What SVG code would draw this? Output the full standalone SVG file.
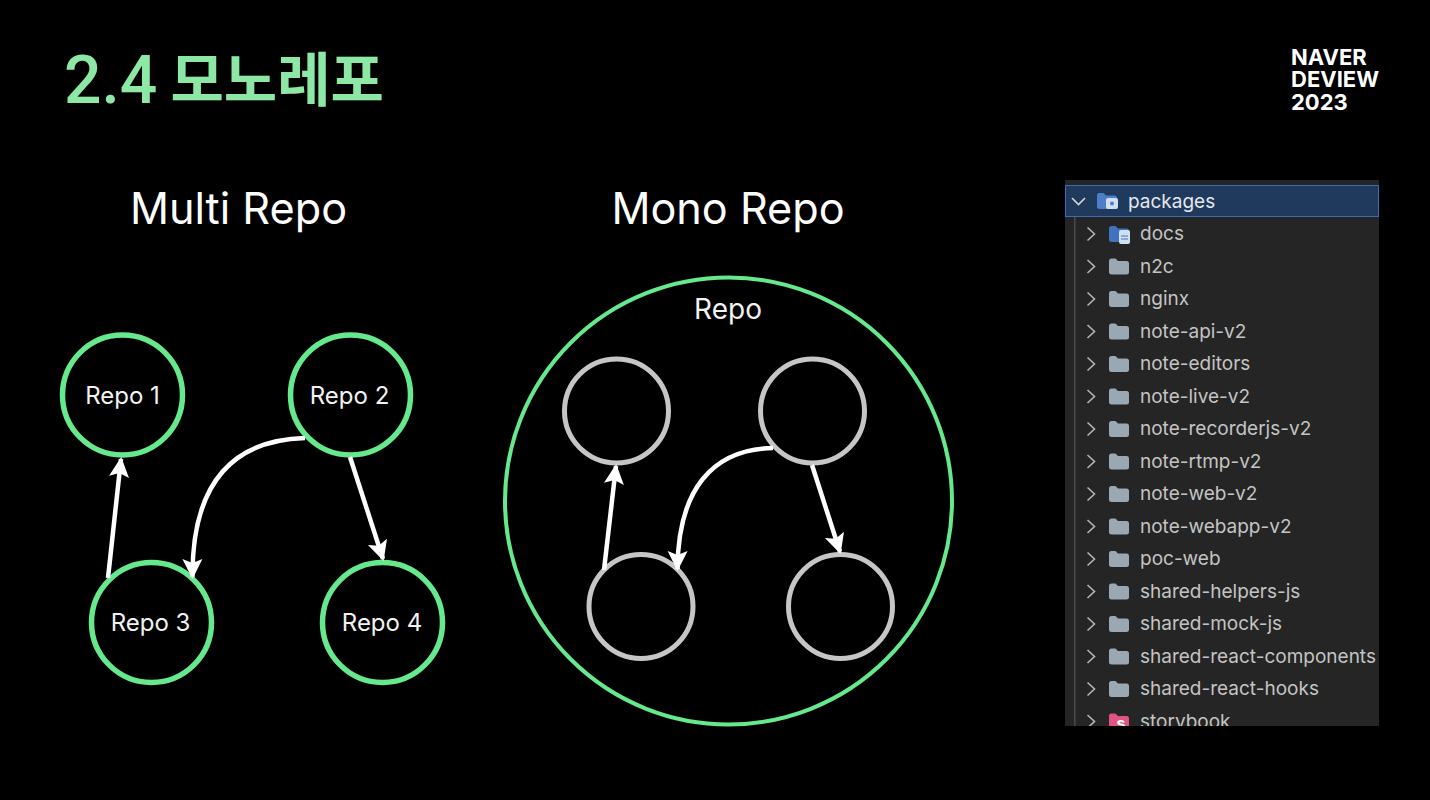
<svg xmlns="http://www.w3.org/2000/svg" width="1430" height="800" viewBox="0 0 1430 800">
  <style>
    text { font-family: "Inter", "Liberation Sans", "Noto Sans CJK KR", sans-serif; }
    .heading { fill: #fff; font-size: 43.200px; text-anchor: middle; }
    .label { fill: #f2f2f2; font-size: 24px; text-anchor: middle; }
    .node { fill: #000; stroke: #66e88c; stroke-width: 5.500; }
    .inner { fill: #000; stroke: #c6c6c6; stroke-width: 5; }
    .edge { fill: none; stroke: #fff; stroke-width: 4.500; marker-end: url(#head); }
    .brand { fill: #fff; font-size: 22px; font-weight: 700; }
    .row { fill: #c4c4c4; font-size: 19px; }
    .chev { fill: none; stroke: #b5b5b5; stroke-width: 1.600; }
    .folder { fill: #9aa8b4; }
  </style>
  <defs>
    <marker id="head" markerUnits="userSpaceOnUse" markerWidth="24" markerHeight="24" refX="18" refY="10" orient="auto" overflow="visible">
      <path d="M0 0 L20 10 L0 20 L4 10 Z" fill="#fff"/>
    </marker>
    <path id="fold" d="M0 2.500 Q0 0 2.500 0 H6.500 L9 2.500 H17.500 Q20 2.500 20 5 V14 Q20 16 17.500 16 H2.500 Q0 16 0 14 Z"/>
    <path id="chevron" d="M-3.500 -6.500 L3.500 0 L-3.500 6.500"/>
    <clipPath id="panelClip"><rect x="1065" y="180" width="314" height="546"/></clipPath>
  </defs>
  <rect width="1430" height="800" fill="#000"/>

  <text fill="#8de8a6"><tspan x="64" y="103" font-size="66" font-weight="500" style="font-family:'Roboto',sans-serif">2.4</tspan><tspan x="170.500" y="101" font-size="58" font-weight="700" style="font-family:'Noto Sans CJK KR',sans-serif">모노레포</tspan></text>
  <text id="brand" class="brand"><tspan x="1291" y="65">NAVER</tspan><tspan x="1291" y="87">DEVIEW</tspan><tspan x="1291" y="110">2023</tspan></text>
  <text class="heading" x="238.500" y="224">Multi Repo</text>
  <text class="heading" x="728" y="224">Mono Repo</text>

  <g id="repo-1"><circle class="node" cx="122.500" cy="395" r="60"/><text class="label" x="122.500" y="404">Repo 1</text></g>
  <g id="repo-2"><circle class="node" cx="350.500" cy="395" r="60"/><text class="label" x="349.500" y="404">Repo 2</text></g>
  <g id="repo-3"><circle class="node" cx="151.500" cy="622.500" r="60"/><text class="label" x="150.500" y="631">Repo 3</text></g>
  <g id="repo-4"><circle class="node" cx="382.500" cy="622.500" r="60"/><text class="label" x="382" y="631">Repo 4</text></g>

  <g id="mono-repo"><circle cx="728.500" cy="501" r="223.500" fill="none" stroke="#66e88c" stroke-width="4"/><text class="label" x="728" y="319" style="font-size:28px">Repo</text></g>
  <g id="mono-a"><circle class="inner" cx="616.500" cy="411" r="52"/></g>
  <g id="mono-b"><circle class="inner" cx="812.500" cy="411" r="52"/></g>
  <g id="mono-c"><circle class="inner" cx="641" cy="606.500" r="52"/></g>
  <g id="mono-d"><circle class="inner" cx="840.500" cy="606.500" r="52"/></g>

  <g id="connectors">
    <path class="edge" d="M108 578 L121 459"/>
    <path class="edge" d="M305 438 C235 440 192 480 192.500 577"/>
    <path class="edge" d="M350 457 L383 559"/>
    <path class="edge" d="M604 570 L616 466"/>
    <path class="edge" d="M773 448 C712 449 678 490 677.500 569"/>
    <path class="edge" d="M812 465 L840 552"/>
  </g>

  <g id="file-tree" clip-path="url(#panelClip)">
    <rect x="1065" y="180" width="314" height="546" fill="#252525"/>
    <rect x="1065.500" y="185.500" width="313" height="31" fill="#1f3a5c" stroke="#3b6db5" stroke-width="1"/>
    <rect x="1074" y="217" width="1.500" height="509" fill="#4a4a4a"/>
    <path d="M1072 198 L1078.500 204.500 L1085 198" fill="none" stroke="#d5d5d5" stroke-width="1.600"/>
    <use href="#fold" x="1097" y="193" fill="#4d7fc9"/>
    <rect x="1106" y="198" width="12" height="11" rx="2" fill="#cfe0f5"/>
    <circle cx="1112" cy="203.500" r="2" fill="#4d7fc9"/>
    <text x="1128" y="208" fill="#e4e8ee" font-size="19">packages</text>

    <g id="row-docs"><use href="#chevron" class="chev" x="1091" y="234"/><use href="#fold" x="1109" y="226" fill="#4072bd"/><rect x="1119" y="230" width="11" height="14" rx="2" fill="#cfe0f5"/><path d="M1121 236 H1128 M1121 239 H1128" stroke="#4072bd" stroke-width="1"/><text class="row" x="1140" y="240">docs</text></g>
    <g id="row-n2c"><use href="#chevron" class="chev" x="1091" y="266.500"/><use href="#fold" class="folder" x="1109" y="258.500"/><text class="row" x="1140" y="272.500">n2c</text></g>
    <g id="row-nginx"><use href="#chevron" class="chev" x="1091" y="299"/><use href="#fold" class="folder" x="1109" y="291"/><text class="row" x="1140" y="305">nginx</text></g>
    <g id="row-note-api"><use href="#chevron" class="chev" x="1091" y="331.500"/><use href="#fold" class="folder" x="1109" y="323.500"/><text class="row" x="1140" y="337.500">note-api-v2</text></g>
    <g id="row-note-editors"><use href="#chevron" class="chev" x="1091" y="364"/><use href="#fold" class="folder" x="1109" y="356"/><text class="row" x="1140" y="370">note-editors</text></g>
    <g id="row-note-live"><use href="#chevron" class="chev" x="1091" y="396.500"/><use href="#fold" class="folder" x="1109" y="388.500"/><text class="row" x="1140" y="402.500">note-live-v2</text></g>
    <g id="row-note-recorderjs"><use href="#chevron" class="chev" x="1091" y="429"/><use href="#fold" class="folder" x="1109" y="421"/><text class="row" x="1140" y="435">note-recorderjs-v2</text></g>
    <g id="row-note-rtmp"><use href="#chevron" class="chev" x="1091" y="461.500"/><use href="#fold" class="folder" x="1109" y="453.500"/><text class="row" x="1140" y="467.500">note-rtmp-v2</text></g>
    <g id="row-note-web"><use href="#chevron" class="chev" x="1091" y="494"/><use href="#fold" class="folder" x="1109" y="486"/><text class="row" x="1140" y="500">note-web-v2</text></g>
    <g id="row-note-webapp"><use href="#chevron" class="chev" x="1091" y="526.500"/><use href="#fold" class="folder" x="1109" y="518.500"/><text class="row" x="1140" y="532.500">note-webapp-v2</text></g>
    <g id="row-poc-web"><use href="#chevron" class="chev" x="1091" y="559"/><use href="#fold" class="folder" x="1109" y="551"/><text class="row" x="1140" y="565">poc-web</text></g>
    <g id="row-shared-helpers"><use href="#chevron" class="chev" x="1091" y="591.500"/><use href="#fold" class="folder" x="1109" y="583.500"/><text class="row" x="1140" y="597.500">shared-helpers-js</text></g>
    <g id="row-shared-mock"><use href="#chevron" class="chev" x="1091" y="624"/><use href="#fold" class="folder" x="1109" y="616"/><text class="row" x="1140" y="630">shared-mock-js</text></g>
    <g id="row-shared-components"><use href="#chevron" class="chev" x="1091" y="656.500"/><use href="#fold" class="folder" x="1109" y="648.500"/><text class="row" x="1140" y="662.500">shared-react-components</text></g>
    <g id="row-shared-hooks"><use href="#chevron" class="chev" x="1091" y="689"/><use href="#fold" class="folder" x="1109" y="681"/><text class="row" x="1140" y="695">shared-react-hooks</text></g>
    <g id="row-storybook"><use href="#chevron" class="chev" x="1091" y="721.500"/><use href="#fold" x="1109" y="713.500" fill="#e0557f"/><text x="1121" y="729" fill="#fff" font-size="16" font-weight="700" text-anchor="middle">s</text><text class="row" x="1140" y="727.500">storybook</text></g>
  </g>
</svg>
